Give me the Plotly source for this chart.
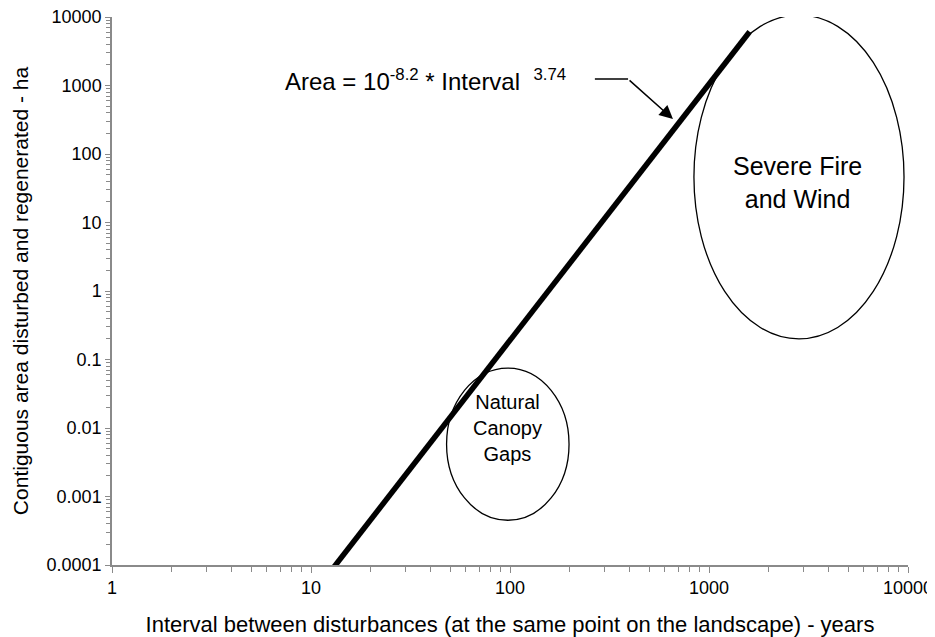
import math
import plotly.graph_objects as go

# Fitted power-law line (read endpoints)
fit_interval = [12.3, 1600]
fit_area = [0.000075, 6100]

# Ellipse bounding boxes (data units)
gaps_interval = [48, 198]
gaps_area = [0.00045, 0.075]
fire_interval = [840, 9550]
fire_area = [0.2, 10700]

x_tickvals = [1, 10, 100, 1000, 10000]
x_ticktext = ["1", "10", "100", "1000", "10000"]
y_tickvals = [0.0001, 0.001, 0.01, 0.1, 1, 10, 100, 1000, 10000]
y_ticktext = ["0.0001", "0.001", "0.01", "0.1", "1", "10", "100", "1000", "10000"]

FONT = "Arial, Liberation Sans, sans-serif"
AXC = "#8a8a8a"

fig = go.Figure()
fig.add_trace(go.Scatter(x=fit_interval, y=fit_area, mode="lines",
                         line=dict(color="black", width=5.5), cliponaxis=False,
                         showlegend=False, hoverinfo="skip"))

fig.add_shape(type="circle", xref="x", yref="y",
              x0=gaps_interval[0], x1=gaps_interval[1],
              y0=gaps_area[0], y1=gaps_area[1],
              line=dict(color="black", width=1.3), layer="above")
fig.add_shape(type="circle", xref="x", yref="y",
              x0=fire_interval[0], x1=fire_interval[1],
              y0=fire_area[0], y1=fire_area[1],
              line=dict(color="black", width=1.3), layer="above")

# horizontal part of leader line
fig.add_shape(type="line", xref="x", yref="y",
              x0=267, x1=392, y0=1245, y1=1245,
              line=dict(color="black", width=1.5))

fig.add_annotation(x=math.log10(659), y=math.log10(324), xref="x", yref="y",
                   ax=math.log10(392), ay=math.log10(1245), axref="x", ayref="y",
                   text="", showarrow=True, arrowhead=2, arrowsize=1.8,
                   arrowwidth=1.5, arrowcolor="black")

fig.add_annotation(x=math.log10(7.2), y=math.log10(1200), xref="x", yref="y",
                   xanchor="left", yanchor="middle", showarrow=False,
                   text="Area = 10<sup>-8.2</sup> * Interval  <sup>3.74</sup>",
                   font=dict(family=FONT, size=24, color="black"))

fig.add_annotation(x=math.log10(2800), y=math.log10(38), xref="x", yref="y",
                   showarrow=False, text="Severe Fire<br>and Wind",
                   font=dict(family=FONT, size=25, color="black"))
fig.add_annotation(x=math.log10(97), y=math.log10(0.01), xref="x", yref="y",
                   showarrow=False, text="Natural<br>Canopy<br>Gaps",
                   font=dict(family=FONT, size=20, color="black"))

fig.update_xaxes(type="log", range=[0, 4], tickvals=x_tickvals, ticktext=x_ticktext,
                 automargin=False, ticklabeloverflow="allow",
                 showgrid=False, zeroline=False, showline=True, linecolor=AXC,
                 linewidth=1.5, ticks="outside", ticklen=6, tickcolor=AXC,
                 tickfont=dict(family=FONT, size=18, color="black"),
                 minor=dict(ticks="outside", ticklen=5, tickcolor=AXC, dtick="D1", showgrid=False),
                 title=dict(text="Interval between disturbances (at the same point on the landscape) - years",
                            font=dict(family=FONT, size=22, color="black"), standoff=19))
fig.update_yaxes(type="log", range=[-4, 4], tickvals=y_tickvals, ticktext=y_ticktext,
                 automargin=False, ticklabeloverflow="allow",
                 showgrid=False, zeroline=False, showline=True, linecolor=AXC,
                 linewidth=1.5, ticks="outside", ticklen=5, tickcolor=AXC,
                 tickfont=dict(family=FONT, size=18, color="black"),
                 minor=dict(ticks="outside", ticklen=4, tickcolor=AXC, dtick="D1", showgrid=False),
                 title=dict(text="Contiguous area disturbed and regenerated - ha",
                            font=dict(family=FONT, size=21, color="black"), standoff=12))

fig.update_layout(width=935, height=637, plot_bgcolor="white", paper_bgcolor="white",
                  margin=dict(l=104, r=35, t=9, b=80), showlegend=False)

fig.write_html("out.html")
